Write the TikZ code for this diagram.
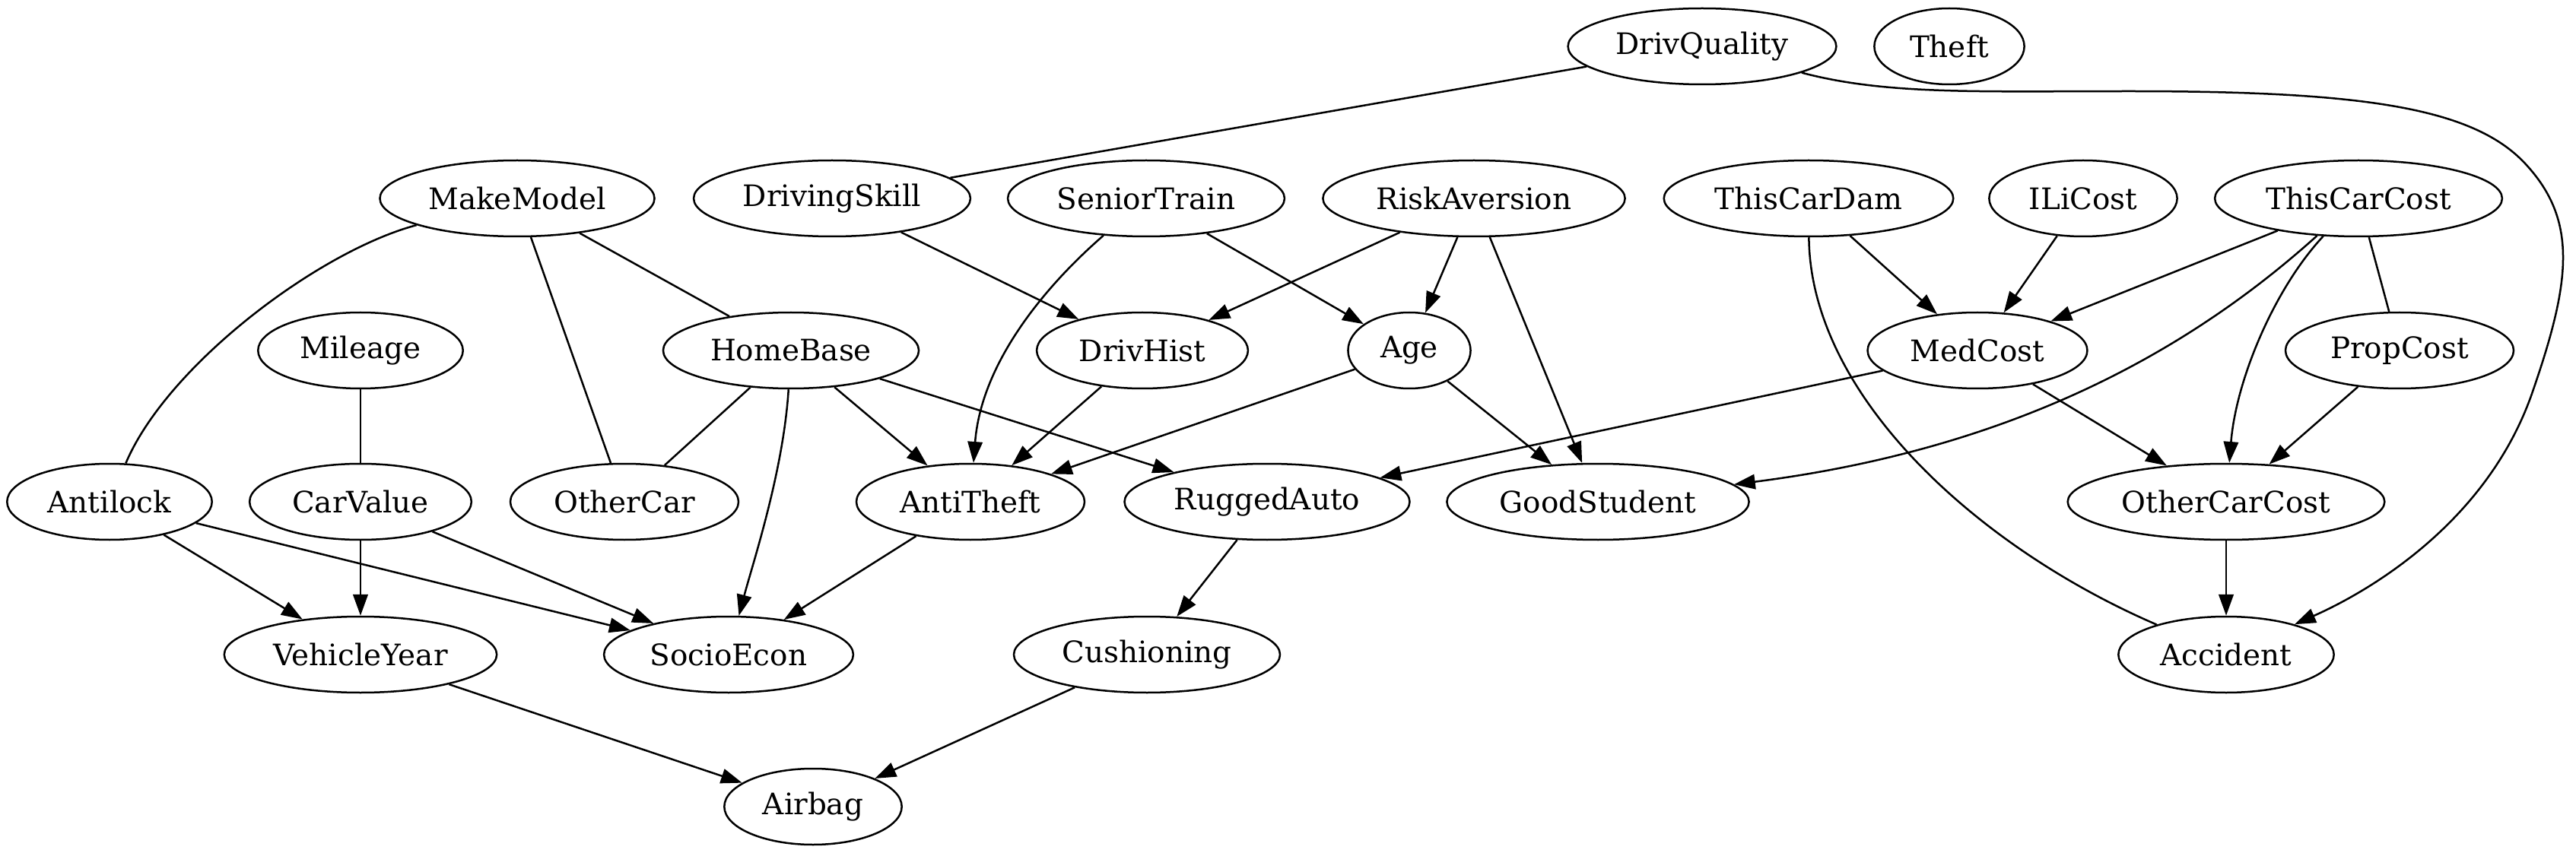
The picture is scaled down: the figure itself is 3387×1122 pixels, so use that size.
\documentclass[tikz,border=0pt]{standalone}
\usepackage{fontspec}
\setmainfont{DejaVu Serif}
\usetikzlibrary{shapes.geometric,arrows.meta}

\tikzset{
  var/.style={draw, ellipse, line width=0.9pt, minimum height=36pt, inner sep=0pt,
    font=\fontsize{14pt}{17pt}\selectfont},
  dep/.style={line width=0.9pt, -{Triangle[length=10pt,width=7pt]}},
  link/.style={line width=0.9pt}
}

\begin{document}
\begin{tikzpicture}[x=0.36pt,y=-0.36pt]
\useasboundingbox (0,0) rectangle (3387,1122);
%% top rows
\node[var, minimum width=127pt] (DrivQuality) at (2238,61) {DrivQuality};
\node[var, minimum width=71pt] (Theft) at (2563,61) {Theft};
\node[var, minimum width=130pt] (MakeModel) at (680,261) {MakeModel};
\node[var, minimum width=131pt] (DrivingSkill) at (1094,261) {DrivingSkill};
\node[var, minimum width=131pt] (SeniorTrain) at (1507,261) {SeniorTrain};
\node[var, minimum width=143pt] (RiskAversion) at (1938,261) {RiskAversion};
\node[var, minimum width=137pt] (ThisCarDam) at (2378,261) {ThisCarDam};
\node[var, minimum width=89pt] (ILiCost) at (2739,261) {ILiCost};
\node[var, minimum width=136pt] (ThisCarCost) at (3101,261) {ThisCarCost};
\node[var, minimum width=97pt] (Mileage) at (474,461) {Mileage};
\node[var, minimum width=121pt] (HomeBase) at (1040,461) {HomeBase};
\node[var, minimum width=100pt] (DrivHist) at (1502,461) {DrivHist};
\node[var, minimum width=58pt] (Age) at (1853,461) {Age};
\node[var, minimum width=104pt] (MedCost) at (2600,461) {MedCost};
\node[var, minimum width=108pt] (PropCost) at (3155,461) {PropCost};
%% lower rows
\node[var, minimum width=97pt] (Antilock) at (144,660) {Antilock};
\node[var, minimum width=105pt] (CarValue) at (474,660) {CarValue};
\node[var, minimum width=108pt] (OtherCar) at (821,660) {OtherCar};
\node[var, minimum width=108pt] (AntiTheft) at (1276,660) {AntiTheft};
\node[var, minimum width=135pt] (RuggedAuto) at (1666,660) {RuggedAuto};
\node[var, minimum width=143pt] (GoodStudent) at (2101,660) {GoodStudent};
\node[var, minimum width=150pt] (OtherCarCost) at (2927,660) {OtherCarCost};
\node[var, minimum width=129pt] (VehicleYear) at (474,861) {VehicleYear};
\node[var, minimum width=118pt] (SocioEcon) at (958,861) {SocioEcon};
\node[var, minimum width=126pt] (Cushioning) at (1508,861) {Cushioning};
\node[var, minimum width=102pt] (Accident) at (2927,861) {Accident};
\node[var, minimum width=84pt] (Airbag) at (1069,1061) {Airbag};

%% undirected links
\draw[link] (DrivQuality) -- (DrivingSkill);
\draw[link] (MakeModel) .. controls (420,330) and (220,480) .. (Antilock);
\draw[link] (MakeModel) -- (OtherCar);
\draw[link] (MakeModel) -- (HomeBase);
\draw[link] (Mileage) -- (CarValue);
\draw[link] (HomeBase) -- (OtherCar);
\draw[link] (ThisCarCost) -- (PropCost);
\draw[link] (ThisCarDam) .. controls (2380,520) and (2600,720) .. (Accident);

%% arrows
\draw[dep] (DrivingSkill) -- (DrivHist);
\draw[dep] (SeniorTrain) .. controls (1370,380) and (1290,480) .. (AntiTheft);
\draw[dep] (SeniorTrain) -- (Age);
\draw[dep] (RiskAversion) -- (DrivHist);
\draw[dep] (RiskAversion) -- (Age);
\draw[dep] (RiskAversion) -- (GoodStudent);
\draw[dep] (ThisCarDam) -- (MedCost);
\draw[dep] (ILiCost) -- (MedCost);
\draw[dep] (ThisCarCost) -- (MedCost);
\draw[dep] (ThisCarCost) .. controls (2880,460) and (2650,590) .. (GoodStudent);
\draw[dep] (ThisCarCost) .. controls (2990,380) and (2940,500) .. (OtherCarCost);
\draw[dep] (HomeBase) -- (AntiTheft);
\draw[dep] (HomeBase) -- (RuggedAuto);
\draw[dep] (HomeBase) .. controls (1030,620) and (990,740) .. (SocioEcon);
\draw[dep] (DrivHist) -- (AntiTheft);
\draw[dep] (Age) -- (AntiTheft);
\draw[dep] (Age) -- (GoodStudent);
\draw[dep] (MedCost) -- (RuggedAuto);
\draw[dep] (MedCost) -- (OtherCarCost);
\draw[dep] (PropCost) -- (OtherCarCost);
\draw[dep] (Antilock) -- (VehicleYear);
\draw[dep] (Antilock) -- (SocioEcon);
\draw[dep] (CarValue) -- (VehicleYear);
\draw[dep] (CarValue) -- (SocioEcon);
\draw[dep] (AntiTheft) -- (SocioEcon);
\draw[dep] (RuggedAuto) -- (Cushioning);
\draw[dep] (OtherCarCost) -- (Accident);
\draw[dep] (VehicleYear) -- (Airbag);
\draw[dep] (Cushioning) -- (Airbag);
%% long arc on the right
\draw[dep] (DrivQuality) .. controls (2480,125) and (2600,120) .. (2800,120)
  .. controls (3100,120) and (3250,140) .. (3320,215)
  .. controls (3390,290) and (3380,370) .. (3330,515)
  .. controls (3270,690) and (3110,780) .. (Accident);

\end{tikzpicture}
\end{document}
